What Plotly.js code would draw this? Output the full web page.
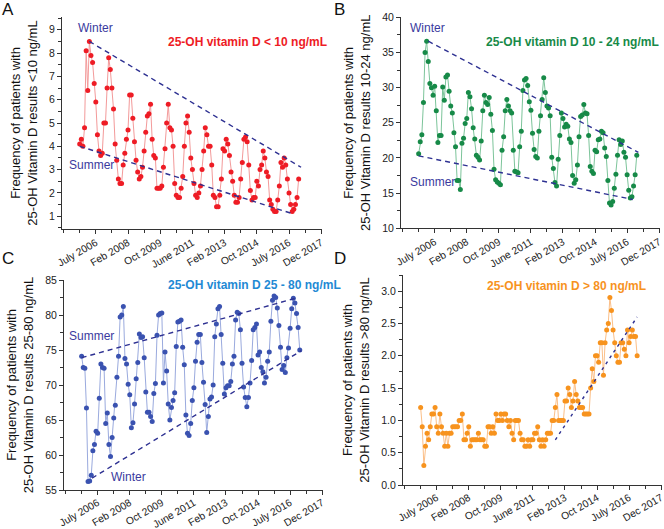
<!DOCTYPE html>
<html><head><meta charset="utf-8">
<script src="https://cdn.plot.ly/plotly-3.0.1.min.js"></script>
<style>html,body{margin:0;padding:0;background:#fff}#chart{width:664px;height:529px}</style>
</head><body><div id="chart"></div>
<script>
// Monthly series (index 0 = first month of the record)
const lowA = [4.1,4.3,4.0,4.8,8.1,6.4,8.5,7.9,7.6,6.7,
5.9,4.5,3.8,3.6,3.7,5.0,5.0,6.5,7.8,7.3,
6.5,5.6,4.1,3.4,2.6,2.4,2.4,3.2,3.7,4.3,
4.7,6.2,6.2,5.2,4.2,3.4,2.9,2.6,2.7,3.1,
3.8,4.6,5.3,5.4,5.8,4.3,3.6,3.5,2.2,2.2,
2.2,2.3,3.1,3.9,5.0,5.8,4.8,4.7,4.0,2.4,
1.9,1.8,1.8,2.2,2.7,4.0,5.0,5.3,4.6,3.5,
3.0,2.4,1.9,1.8,2.0,2.3,3.0,3.8,4.8,4.5,
4.0,4.0,3.2,1.9,1.8,1.4,1.4,1.9,2.6,3.9,
3.8,4.3,4.1,3.6,2.9,2.5,1.9,1.6,1.6,1.8,
2.6,3.3,4.3,4.4,4.2,3.2,2.1,1.7,1.8,1.8,
2.5,2.3,3.0,3.2,3.8,3.5,2.9,2.7,1.7,1.5,
1.3,1.2,1.2,1.7,2.3,3.3,3.1,3.5,3.2,2.6,
2.0,1.5,1.2,1.3,1.5,1.8,2.6];
const midB = [20.6,22.3,23.3,27.9,35.0,36.6,33.7,30.6,30.0,28.9,
30.2,26.7,22.2,23.2,23.2,30.1,28.2,31.5,31.8,29.5,
27.4,26.4,23.6,21.6,16.8,16.8,15.5,22.1,22.8,24.9,
25.6,29.3,28.7,27.0,24.3,22.7,20.4,20.1,19.7,22.4,
26.7,28.9,27.9,27.6,28.6,26.2,23.9,18.4,16.9,16.6,
16.4,16.2,21.1,23.0,26.7,28.3,27.4,26.7,26.4,21.1,
18.1,18.0,17.9,21.6,23.8,29.6,31.1,31.3,30.3,28.0,
26.8,23.5,21.2,20.2,20.0,23.8,26.0,28.3,31.4,29.3,
27.4,27.1,26.0,20.1,18.5,16.5,16.0,19.8,23.2,26.4,
25.6,24.4,24.8,24.5,22.7,22.2,17.5,16.4,16.9,19.0,
23.0,25.9,26.1,27.6,26.4,26.3,23.2,18.8,18.1,17.8,
21.1,20.9,22.6,22.7,23.8,23.6,21.4,20.2,16.8,13.6,
13.3,13.8,15.7,17.7,20.4,22.6,21.9,22.4,20.8,20.1,
17.6,15.4,14.3,14.5,16.0,17.6,20.4];
const normC = [74.1,72.5,72.4,66.7,56.2,56.3,57.1,60.6,61.5,63.4,
63.1,68.1,73.0,72.5,72.4,64.5,66.0,61.5,59.8,62.5,
65.3,67.1,71.1,74.1,79.7,80.0,81.2,73.8,73.0,70.1,
68.6,63.9,64.6,67.3,70.9,73.2,77.3,76.8,76.9,73.9,
69.0,66.1,66.1,65.5,64.8,68.8,70.2,77.1,80.0,80.2,
80.3,70.3,74.7,72.0,67.3,65.0,66.8,67.8,68.9,75.5,
79.0,79.1,79.3,75.4,72.9,65.7,63.1,62.8,64.5,67.8,
69.6,73.4,76.1,77.2,77.2,73.2,70.4,67.2,63.2,65.5,
68.0,68.3,70.0,76.9,78.7,80.9,81.2,77.2,73.1,68.7,
69.6,69.9,69.9,70.5,73.0,74.1,79.3,80.4,80.2,77.9,
73.1,69.7,68.2,66.9,68.2,70.3,73.5,77.9,78.2,78.7,
74.3,74.7,72.5,71.9,70.3,71.1,73.4,74.7,79.1,82.1,
82.7,82.5,81.0,78.5,75.4,72.2,72.8,71.8,73.9,75.3,
78.1,80.9,82.4,81.7,80.2,78.2,75.0];
const highD = [1.2,0.9,0.3,0.6,0.8,0.7,0.9,1.1,1.1,1.2,
0.9,0.8,1.1,0.9,0.8,0.6,0.8,0.6,0.8,0.8,
0.9,0.9,0.9,0.9,1.0,1.0,1.1,0.7,0.7,0.8,
0.9,0.6,0.7,0.7,0.7,0.7,0.8,0.7,0.7,0.7,
0.6,0.6,0.9,0.9,0.8,0.9,0.8,1.1,1.0,1.0,
1.1,1.0,1.1,1.1,1.0,0.9,1.0,0.8,0.7,1.0,
1.0,1.0,0.8,0.7,0.7,0.6,0.6,0.7,0.6,0.7,
0.7,0.8,0.8,0.9,0.7,0.6,0.7,0.6,0.7,0.8,
0.8,0.8,1.0,1.0,1.2,1.4,1.0,1.0,1.0,1.0,
1.3,1.3,1.5,1.4,1.2,1.3,1.6,1.4,1.3,1.2,
1.2,1.2,1.1,1.1,1.1,1.1,1.5,1.8,1.6,2.0,
2.0,1.9,2.2,2.2,1.7,2.2,2.4,2.5,2.9,2.7,
2.4,2.2,2.0,1.9,1.9,2.2,2.2,2.1,2.0,2.4,
2.2,2.3,2.4,2.3,2.3,2.0];

// Tick labels and positions (month index)
const tickLabels = ['July 2006','Feb 2008','Oct 2009','June 2011','Feb 2013','Oct 2014','July 2016','Dec 2017'];
const tickPos = [10,30,50,70,90,110,130,150];
const minorPos = [-10,0,20,40,60,80,100,120,140];

// Trend (envelope) lines: [start, end]
const trendA_winter_x = [6,137.5], trendA_winter_y = [8.5,3.1];
const trendA_summer_x = [0,132.5], trendA_summer_y = [4.0,1.1];
const trendB_winter_x = [6,137], trendB_winter_y = [36.6,20.8];
const trendB_summer_x = [0,133.5], trendB_summer_y = [20.3,14.1];
const trendC_summer_x = [0,133.5], trendC_summer_y = [73.9,82.4];
const trendC_winter_x = [6.5,137], trendC_winter_y = [56.7,74.9];
const trendD_x = [84,135], trendD_y = [0.7,2.6];

const FONT = 'Liberation Sans, Arial, sans-serif';
const idx = a => a.map((_, i) => i);
const W = 664, H = 529;
const px = x => x / W, py = y => 1 - y / H;

function series(y, xa, ya, mc, lc) {
  return {x: idx(y), y: y, xaxis: xa, yaxis: ya, type: 'scatter', mode: 'lines+markers',
    line: {color: lc, width: 1}, marker: {color: mc, size: 5}, hoverinfo: 'none'};
}
function trend(x, y, xa, ya, dash) {
  return {x: x, y: y, xaxis: xa, yaxis: ya, type: 'scatter', mode: 'lines',
    line: {color: '#2e3192', width: 1.4, dash: dash}, hoverinfo: 'none'};
}
const traces = [
  series(lowA, 'x', 'y', '#ee1c25', '#f39a9a'),
  trend(trendA_winter_x, trendA_winter_y, 'x', 'y', '5px,4px'),
  trend(trendA_summer_x, trendA_summer_y, 'x', 'y', '5px,4px'),
  series(midB, 'x2', 'y2', '#178a48', '#7cc49a'),
  trend(trendB_winter_x, trendB_winter_y, 'x2', 'y2', '5px,4px'),
  trend(trendB_summer_x, trendB_summer_y, 'x2', 'y2', '5px,4px'),
  series(normC, 'x3', 'y3', '#3a52b0', '#9aaade'),
  trend(trendC_summer_x, trendC_summer_y, 'x3', 'y3', '5px,4px'),
  trend(trendC_winter_x, trendC_winter_y, 'x3', 'y3', '5px,4px'),
  series(highD, 'x4', 'y4', '#f7931e', '#fbbf88'),
  trend(trendD_x, trendD_y, 'x4', 'y4', '3px,4px')
];

function xax(d, anchor, so) {
  return {domain: d, anchor: anchor, range: [-11, 150.5], tickmode: 'array', tickvals: tickPos, ticktext: tickLabels,
    tickangle: -30, ticks: 'outside', ticklen: 4, tickwidth: 1, tickcolor: '#333',
    ticklabeloverflow: 'allow', ticklabelstandoff: so,
    minor: {tickmode: 'array', tickvals: minorPos, ticks: 'outside', ticklen: 3, tickcolor: '#333'},
    showline: true, linecolor: '#333', linewidth: 1, showgrid: false, zeroline: false,
    tickfont: {family: FONT, size: 10.3, color: '#222'}, fixedrange: true};
}
function yax(d, anchor, range, dtick, mdt, title, fmt) {
  return {domain: d, anchor: anchor, range: range, tickmode: 'linear', tick0: 0, dtick: dtick,
    ticks: 'outside', ticklen: 4, tickwidth: 1, tickcolor: '#333', tickformat: fmt || '',
    ticklabeloverflow: 'allow',
    minor: {tick0: 0, dtick: mdt, ticks: 'outside', ticklen: 3, tickcolor: '#333'},
    showline: true, linecolor: '#333', linewidth: 1, showgrid: false, zeroline: false,
    tickfont: {family: FONT, size: 10.5, color: '#222'},
    title: {text: title, font: {family: FONT, size: 13, color: '#111'}, standoff: 8}, fixedrange: true};
}
const tA = 'Frequency of patients with<br>25-OH Vitamin D results &lt;10 ng/mL';
const tB = 'Frequency of patients with<br>25-OH Vitamin D results 10-24 ng/mL';
const tC = 'Frequency of patients with<br>25-OH Vitamin D results 25-80 ng/mL';
const tD = 'Frequency of patients with<br>25-OH Vitamin D results &gt;80 ng/mL';

function ann(text, x, y, size, color, xanchor, bold) {
  return {text: bold ? '<b>' + text + '</b>' : text, x: px(x), y: py(y), xref: 'paper', yref: 'paper',
    xanchor: xanchor || 'left', yanchor: 'middle', showarrow: false,
    font: {family: FONT, size: size, color: color}};
}
const SW = '#3a3a9e';
const annotations = [
  ann('A', 0, 10, 17, '#111'), ann('B', 332, 10, 17, '#111'),
  ann('C', 0, 258, 17, '#111'), ann('D', 332, 258, 17, '#111'),
  ann('25-OH vitamin D &lt; 10 ng/mL', 166, 42, 12, '#ee1c25', 'left', true),
  ann('25-OH vitamin D 10 - 24 ng/mL', 484, 42, 12, '#178a48', 'left', true),
  ann('25-OH vitamin D 25 - 80 ng/mL', 166, 285, 12, '#1f8ad4', 'left', true),
  ann('25-OH vitamin D &gt; 80 ng/mL', 485, 286, 12, '#f7931e', 'left', true),
  ann('Winter', 76, 28, 12, SW), ann('Summer', 67, 165, 12, SW),
  ann('Winter', 408, 28, 12, SW), ann('Summer', 408, 182, 12, SW),
  ann('Summer', 67, 336, 12, SW), ann('Winter', 109, 477, 12, SW)
];

const layout = {
  width: W, height: H, margin: {l: 0, r: 0, t: 0, b: 0}, showlegend: false,
  paper_bgcolor: '#fff', plot_bgcolor: '#fff', hovermode: false,
  xaxis: xax([px(62), px(322)], 'y', -1),
  yaxis: yax([py(229), py(17)], 'x', [0.45, 9.55], 1, 0.5, tA),
  xaxis2: xax([px(401), px(660)], 'y2', -1),
  yaxis2: yax([py(228.3), py(17.3)], 'x2', [10, 40], 5, 2.5, tB),
  xaxis3: xax([px(64), px(323)], 'y3', -2),
  yaxis3: yax([py(490), py(280)], 'x3', [55, 85], 5, 2.5, tC),
  xaxis4: xax([px(403), px(662)], 'y4', -2),
  yaxis4: yax([py(485), py(275)], 'x4', [0, 3.25], 0.5, 0.25, tD, '.1f'),
  annotations: annotations
};
Plotly.newPlot('chart', traces, layout, {staticPlot: true, displayModeBar: false});
</script></body></html>
